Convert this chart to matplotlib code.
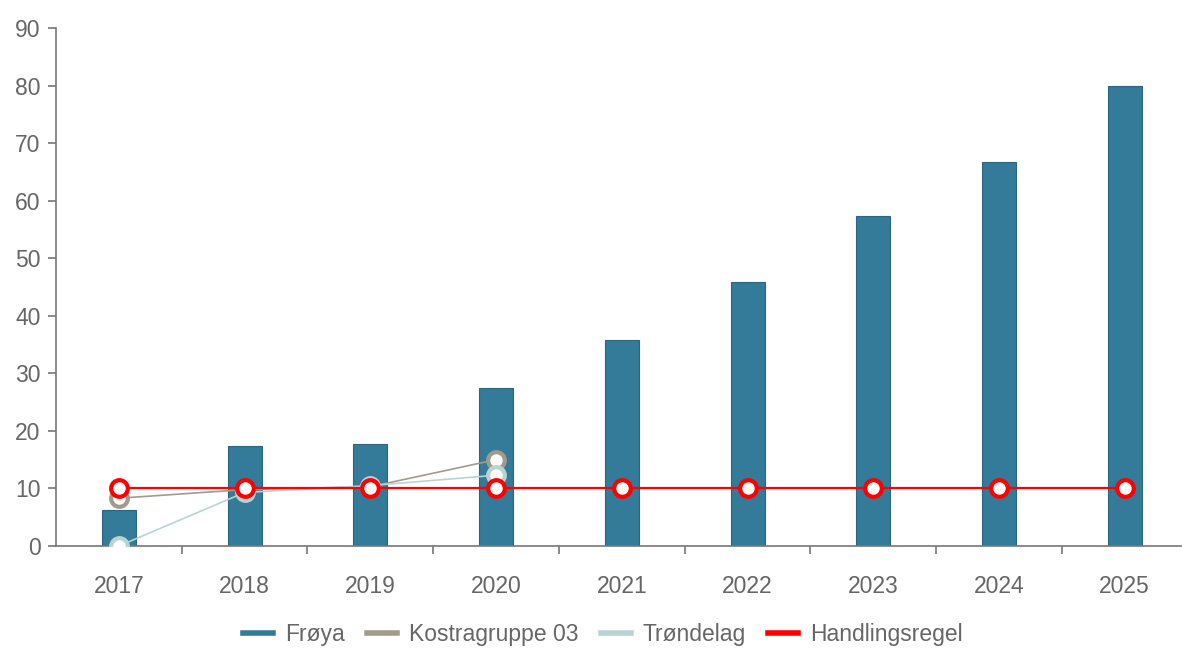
import numpy as np
import matplotlib.pyplot as plt
from matplotlib.lines import Line2D

plt.rcParams['font.family'] = ['Liberation Sans', 'DejaVu Sans']

# Data
years = ['2017', '2018', '2019', '2020', '2021', '2022', '2023', '2024', '2025']
froya = [6.2, 17.4, 17.7, 27.4, 35.8, 45.9, 57.3, 66.8, 80.0]
kostra = [8.3, 9.8, 10.3, 15.0]
trondelag = [0.0, 9.3, 10.5, 12.3]
handlingsregel = [10, 10, 10, 10, 10, 10, 10, 10, 10]

c_froya = '#347a99'
c_kostra = '#a39a8e'
c_trond = '#b9d3d3'
c_red = '#ff0000'
txt = '#666666'

fig = plt.figure(figsize=(11.82, 6.48), dpi=100)
ax = fig.add_axes([0.0474, 0.1574, 0.952, 0.7994])

x = np.arange(len(years))
ax.bar(x, froya, width=0.27, color=c_froya, edgecolor='#2b6580', linewidth=0.8, zorder=2)

mk = dict(marker='o', markersize=12, markerfacecolor='white', markeredgewidth=3)
ax.plot(x[:len(kostra)], kostra, color=c_kostra, linewidth=1.2, markeredgecolor=c_kostra, zorder=3, **mk)
ax.plot(x[:len(trondelag)], trondelag, color=c_trond, linewidth=1.2, markeredgecolor=c_trond, zorder=4, **mk)
ax.plot(x, handlingsregel, color=c_red, linewidth=1.6, markeredgecolor=c_red, zorder=5, **mk)

ax.set_xlim(-0.5, 8.45)
ax.set_ylim(0, 90)
ax.set_yticks(np.arange(0, 91, 10))
ax.set_xticks(x)
ax.set_xticklabels(years)
ax.set_xticks(np.arange(0.5, 8, 1), minor=True)

for s in ['top', 'right']:
    ax.spines[s].set_visible(False)
for s in ['left', 'bottom']:
    ax.spines[s].set_color('#777777')
    ax.spines[s].set_linewidth(1.2)

ax.tick_params(axis='x', which='major', length=0, pad=21, labelsize=16.5, labelcolor=txt)
ax.tick_params(axis='x', which='minor', length=6, width=1.2, color='#777777')
ax.tick_params(axis='y', length=6, width=1.2, color='#777777', labelsize=16.5, labelcolor=txt, pad=5)

handles = [Line2D([], [], color=c, linewidth=4) for c in [c_froya, c_kostra, c_trond, c_red]]
labels = ['Frøya', 'Kostragruppe 03', 'Trøndelag', 'Handlingsregel']
fig.legend(handles, labels, loc='center', bbox_to_anchor=(0.51, 0.021), ncol=4, frameon=False,
           fontsize=16.5, labelcolor=txt, handlelength=1.3, handletextpad=0.5, columnspacing=1.0)

plt.savefig('out.png', dpi=100)
plt.close(fig)
